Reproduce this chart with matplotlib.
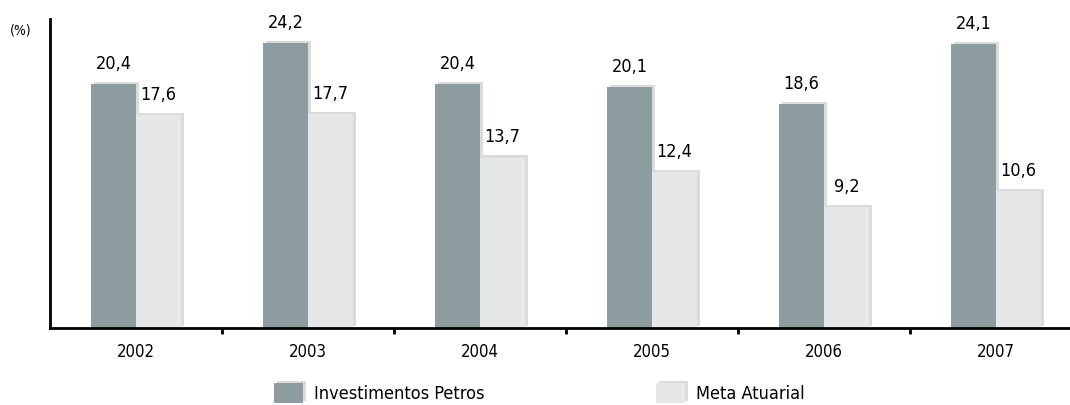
import matplotlib.pyplot as plt
import matplotlib.patheffects as pe
import numpy as np

years = ['2002', '2003', '2004', '2005', '2006', '2007']
petros = [20.4, 24.2, 20.4, 20.1, 18.6, 24.1]
meta = [17.6, 17.7, 13.7, 12.4, 9.2, 10.6]

dark = '#8c9c9f'
light = '#e6e7e9'
plt.rcParams['font.family'] = ['DejaVu Sans']
plt.rcParams['font.stretch'] = 'condensed'

fig = plt.figure(figsize=(10.7, 4.05), dpi=100)
ax = fig.add_axes([50 / 1070, 77 / 405, 1020 / 1070, 309 / 405])

# the original scale does not start at zero
base = -1.88
x = np.arange(len(years))
w = 0.262
shadow = [pe.SimplePatchShadow(offset=(2, 1.5), shadow_rgbFace='#999999', alpha=0.35), pe.Normal()]
b1 = ax.bar(x - w / 2, np.array(petros) - base, w, bottom=base, color=dark,
            path_effects=shadow, label='Investimentos Petros')
b2 = ax.bar(x + w / 2, np.array(meta) - base, w, bottom=base, color=light,
            path_effects=shadow, label='Meta Atuarial')

# value labels with comma decimals
for bars, vals in ((b1, petros), (b2, meta)):
    for b, v in zip(bars, vals):
        ax.annotate(f'{v:.1f}'.replace('.', ','), (b.get_x() + b.get_width() / 2, v),
                    xytext=(0, 8), textcoords='offset points', ha='center', va='bottom', fontsize=13)

ax.set_xlim(-0.5, -0.5 + 1020 / 172)
ax.set_ylim(base, 26.36)
ax.set_xticks(x)
ax.set_xticklabels(years, fontsize=12)
ax.tick_params(axis='x', which='major', length=0, pad=11)
ax.set_xticks(x[:-1] + 0.5, minor=True)
ax.tick_params(axis='x', which='minor', length=4, width=2, direction='out')
ax.set_yticks([])
for s in ('top', 'right'):
    ax.spines[s].set_visible(False)
for s in ('left', 'bottom'):
    ax.spines[s].set_linewidth(2)

fig.text(10 / 1070, 1 - 30 / 405, '(%)', fontsize=10, va='center')

fig.legend(handles=[b1, b2], loc='lower left', bbox_to_anchor=(258 / 1070, -0.035), ncol=2,
           frameon=False, fontsize=13, handlelength=1.6, handleheight=1.3,
           columnspacing=9.5, handletextpad=0.6)

fig.savefig('out.png', dpi=100)
